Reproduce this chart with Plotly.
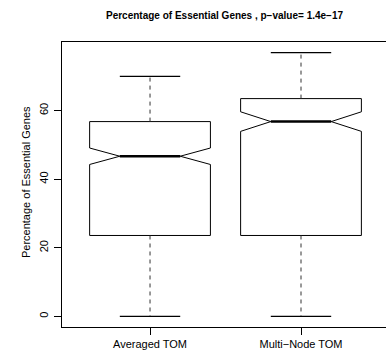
import plotly.graph_objects as go

categories = ["Averaged TOM", "Multi\u2212Node TOM"]
positions = [1, 2]
minimum = [0.0, 0.0]
q1 = [23.6, 23.6]
median = [46.7, 56.8]
q3 = [56.8, 63.5]
maximum = [70.0, 76.9]
notch = [2.4, 2.85]

BOXW = 0.8
CAPW = 0.4
FONT = "Liberation Sans, Arial, Helvetica, sans-serif"

fig = go.Figure()

for i in range(len(categories)):
    c = positions[i]
    h = BOXW / 2
    n = BOXW / 4
    lo, hi = median[i] - notch[i], median[i] + notch[i]
    bx = [c - h, c - h, c - n, c - h, c - h, c + h, c + h, c + n, c + h, c + h, c - h]
    by = [q1[i], lo, median[i], hi, q3[i], q3[i], hi, median[i], lo, q1[i], q1[i]]
    fig.add_trace(go.Scatter(
        x=bx, y=by, mode="lines", line=dict(color="black", width=1),
        showlegend=False, hoverinfo="skip"))
    # dashed whiskers
    for a, b in [(q3[i], maximum[i]), (q1[i], minimum[i])]:
        fig.add_trace(go.Scatter(
            x=[c, c], y=[a, b], mode="lines",
            line=dict(color="#333333", width=1, dash="4px,4px"),
            showlegend=False, hoverinfo="skip"))
    # staples
    for v in [maximum[i], minimum[i]]:
        fig.add_trace(go.Scatter(
            x=[c - CAPW / 2, c + CAPW / 2], y=[v, v], mode="lines",
            line=dict(color="black", width=1.3),
            showlegend=False, hoverinfo="skip"))
    # thick median
    fig.add_trace(go.Scatter(
        x=[c - n, c + n], y=[median[i], median[i]], mode="lines",
        line=dict(color="black", width=2.5),
        showlegend=False, hoverinfo="skip"))

fig.update_layout(
    width=386, height=355,
    margin=dict(l=62, r=0, t=42, b=28, autoexpand=False),
    paper_bgcolor="white", plot_bgcolor="white",
    font=dict(family=FONT, color="black", size=11),
    xaxis=dict(range=[0.417, 2.563], tickvals=positions, ticktext=categories,
               ticks="outside", ticklen=7, tickcolor="black",
               showline=True, mirror=True, linecolor="black", linewidth=1,
               showgrid=False, zeroline=False, tickfont=dict(size=11)),
    yaxis=dict(range=[-3.08, 80.0], tickvals=[0, 20, 40, 60],
               ticks="outside", ticklen=7, tickcolor="black", tickangle=-90,
               ticklabelstandoff=2,
               showline=True, mirror=False, linecolor="black", linewidth=1,
               showgrid=False, zeroline=False, tickfont=dict(size=11)),
    annotations=[
        dict(text="<b>Percentage of Essential Genes , p\u2212value= 1.4e\u221217</b>",
             xref="paper", yref="paper", x=0.504, y=1.093, showarrow=False,
             xanchor="center", yanchor="middle", font=dict(size=10)),
        dict(text="Percentage of Essential Genes", textangle=-90,
             xref="paper", yref="paper", x=-0.1125, y=0.507, showarrow=False,
             xanchor="center", yanchor="middle", font=dict(size=11)),
    ],
)

fig.write_html("out.html")
